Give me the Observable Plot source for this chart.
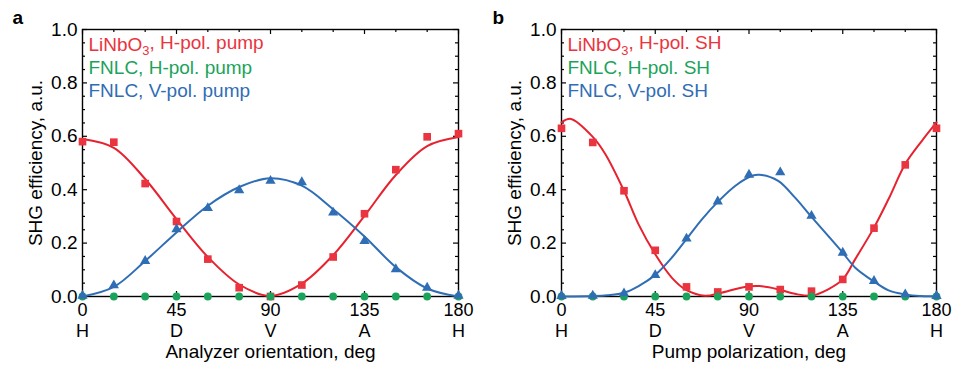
<!DOCTYPE html>
<html><head><meta charset="utf-8">
<script src="https://cdn.jsdelivr.net/npm/d3@7"></script>
<script src="https://cdn.jsdelivr.net/npm/@observablehq/plot@0.6"></script>
<style>
body{margin:0;background:#fff;}
#wrap{display:flex;width:953px;height:374px;overflow:hidden;}
svg{display:block;}
</style></head><body><div id="wrap"></div>
<script>
// ---- shared axis data ----
const angles = [0,15,30,45,60,75,90,105,120,135,150,165,180];
const xMajorTicks = [0,45,90,135,180];
const xTickLetters = ["H","D","V","A","H"];
const xMinorTicks = [15,30,60,75,105,120,150,165];
const yMajorTicks = [0,0.2,0.4,0.6,0.8,1.0];
const yMinorTicks = [0.05,0.1,0.15,0.25,0.3,0.35,0.45,0.5,0.55,0.65,0.7,0.75,0.85,0.9,0.95];
const yLabel = "SHG efficiency, a.u.";

// ---- panel a ----
const aXLabel = "Analyzer orientation, deg";
const aLegend = ["LiNbO_3, H-pol. pump","FNLC, H-pol. pump","FNLC, V-pol. pump"];
const aRed   = [0.58,0.578,0.423,0.281,0.14,0.033,0.0,0.043,0.148,0.31,0.475,0.598,0.61];
const aGreen = [0,0,0,0,0,0,0,0,0,0,0,0,0];
const aBlue  = [0.003,0.042,0.133,0.252,0.331,0.398,0.433,0.428,0.314,0.208,0.102,0.033,0.003];
const aRedFitX  = [0,15,30,45,60,75,90,105,120,135,150,165,180];
const aRedFitY  = [0.59,0.557,0.44,0.29,0.148,0.045,0.002,0.048,0.155,0.302,0.455,0.563,0.597];
const aBlueFitX = [0,15,30,45,60,75,90,105,120,135,150,165,180];
const aBlueFitY = [0.0,0.036,0.133,0.24,0.34,0.41,0.443,0.415,0.327,0.225,0.11,0.03,0.0];

// ---- panel b ----
const bXLabel = "Pump polarization, deg";
const bLegend = ["LiNbO_3, H-pol. SH","FNLC, H-pol. SH","FNLC, V-pol. SH"];
const bRed   = [0.63,0.577,0.396,0.173,0.036,0.017,0.036,0.026,0.02,0.064,0.256,0.493,0.63];
const bGreen = [0,0,0,0,0,0,0,0,0,0,0,0,0];
const bBlue  = [0.002,0.003,0.012,0.08,0.217,0.356,0.456,0.465,0.302,0.164,0.058,0.008,0.002];
const bRedFitX  = [0,4.5,15,21,30,37,45,53,60,69,76,88,95,104,112,120,128,135,141,150,157,165,173,180];
const bRedFitY  = [0.652,0.665,0.598,0.534,0.396,0.27,0.158,0.07,0.024,0.003,0.013,0.036,0.039,0.027,0.01,0.003,0.027,0.064,0.14,0.258,0.365,0.496,0.583,0.652];
const bBlueFitX = [0,15,22,30,37,45,53,60,67.5,75.5,83.5,91.5,95,104,112,120,128,135,141,150,157,165,172,180];
const bBlueFitY = [0,0.002,0.005,0.014,0.039,0.081,0.146,0.215,0.29,0.358,0.415,0.452,0.456,0.433,0.371,0.298,0.227,0.164,0.108,0.056,0.023,0.008,0.002,0.001];

const colors = {red:"#EA3440", redLine:"#E6222F", green:"#1BA35B", blue:"#2F6DB5"};

function pts(xs, ys){ return xs.map((x,i)=>({x, y: ys[i]})); }

function panel(o){
  const H = 374, mt = 29, mb = 78;
  const ph = H - mt - mb;
  const pw = o.width - o.marginLeft - o.marginRight;
  const letterMap = new Map(xMajorTicks.map((t,i)=>[t, xTickLetters[i]]));
  const legendColors = [colors.red, colors.green, colors.blue];
  const svg = Plot.plot({
    width: o.width, height: H,
    marginLeft: o.marginLeft, marginRight: o.marginRight, marginTop: mt, marginBottom: mb,
    style: {fontFamily: "'Liberation Sans', Arial, sans-serif", fontSize: "19px", color: "black", background: "white"},
    x: {domain: [0,180], axis: null},
    y: {domain: [0,1], axis: null},
    marks: [
      // inward ticks
      Plot.ruleX(xMajorTicks, {insetTop: ph-5, stroke:"black", strokeWidth:1.2}),
      Plot.ruleX(xMinorTicks, {insetTop: ph-3, stroke:"black", strokeWidth:1.2}),
      Plot.ruleX(xMajorTicks, {insetBottom: ph-5, stroke:"black", strokeWidth:1.2}),
      Plot.ruleX(xMinorTicks, {insetBottom: ph-3, stroke:"black", strokeWidth:1.2}),
      Plot.ruleY(yMajorTicks, {insetRight: pw-5, stroke:"black", strokeWidth:1.2}),
      Plot.ruleY(yMinorTicks, {insetRight: pw-3, stroke:"black", strokeWidth:1.2}),
      Plot.ruleY(yMajorTicks, {insetLeft: pw-5, stroke:"black", strokeWidth:1.2}),
      Plot.ruleY(yMinorTicks, {insetLeft: pw-3, stroke:"black", strokeWidth:1.2}),
      // tick labels: numbers, then letters below
      Plot.axisX(xMajorTicks, {anchor:"bottom", tickSize:0, tickPadding:7, label:null, fontSize:18,
        tickFormat: d => `${d}`}),
      Plot.axisX(xMajorTicks, {anchor:"bottom", tickSize:0, tickPadding:28, label:null, fontSize:18,
        tickFormat: d => letterMap.get(d)}),
      Plot.axisY(yMajorTicks, {anchor:"left", tickSize:0, tickPadding:5, label:null,
        tickFormat: d3.format(".1f")}),
      Plot.frame({stroke:"black", strokeWidth:1.4}),
      // axis titles
      Plot.text([o.xLabel], {text: d=>d, frameAnchor:"bottom", textAnchor:"middle", dy:61, fill:"black"}),
      Plot.text([yLabel], {text: d=>d, frameAnchor:"left", textAnchor:"middle", rotate:-90, dx:-47, fill:"black"}),
      // panel letter
      Plot.text([o.letter], {text: d=>d, frameAnchor:"top-left", textAnchor:"start", lineAnchor:"top",
        dx: o.letterDx, dy:-19, fontWeight:"bold", fontSize:19, fill:"black"}),
      // legend
      ...o.legend.map((lab,i)=>Plot.text([lab], {text: d=>d, frameAnchor:"top-left", textAnchor:"start",
        lineAnchor:"top", dx:6, dy:8+23*i, fill: legendColors[i]})),
      // fits
      Plot.line(pts(o.redFitX, o.redFitY), {x:"x", y:"y", stroke: colors.redLine, strokeWidth:2, curve:"catmull-rom"}),
      Plot.line(pts(o.blueFitX, o.blueFitY), {x:"x", y:"y", stroke: colors.blue, strokeWidth:2, curve:"catmull-rom"}),
      // data
      Plot.dot(pts(angles, o.red), {x:"x", y:"y", symbol:"square", r:4.3, fill: colors.red, stroke:"none"}),
      Plot.dot(pts(angles, o.green), {x:"x", y:"y", symbol:"circle", r:3.9, fill: colors.green, stroke:"none"}),
      Plot.dot(pts(angles, o.blue), {x:"x", y:"y", symbol:"triangle", r:3.8, fill: colors.blue, stroke:"none"})
    ]
  });
  // subscript fix for LiNbO_3
  d3.select(svg).selectAll("text").each(function(){
    const t = this.textContent;
    if (t.includes("_3")) {
      const [pre, post] = t.split("_3");
      const sel = d3.select(this);
      sel.text(null);
      sel.append("tspan").text(pre);
      sel.append("tspan").attr("dy","0.3em").attr("font-size","0.68em").text("3");
      sel.append("tspan").attr("dy","-0.3em").text(post);
    }
  });
  return svg;
}

const wrap = document.getElementById("wrap");
wrap.appendChild(panel({width:476, marginLeft:82, marginRight:18, letter:"a", letterDx:-70,
  xLabel:aXLabel, legend:aLegend, red:aRed, green:aGreen, blue:aBlue,
  redFitX:aRedFitX, redFitY:aRedFitY, blueFitX:aBlueFitX, blueFitY:aBlueFitY}));
wrap.appendChild(panel({width:477, marginLeft:85, marginRight:17, letter:"b", letterDx:-69,
  xLabel:bXLabel, legend:bLegend, red:bRed, green:bGreen, blue:bBlue,
  redFitX:bRedFitX, redFitY:bRedFitY, blueFitX:bBlueFitX, blueFitY:bBlueFitY}));
</script></body></html>
